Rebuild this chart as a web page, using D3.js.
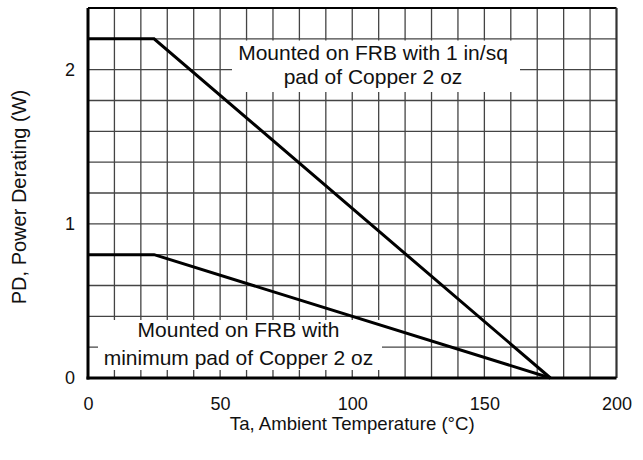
<!DOCTYPE html>
<html>
<head>
<meta charset="utf-8">
<script src="https://cdn.jsdelivr.net/npm/d3@7/dist/d3.min.js"></script>
<style>
  html, body { margin: 0; padding: 0; background: #fff; }
  svg { display: block; font-family: "Liberation Sans", Arial, Helvetica, sans-serif; }
</style>
</head>
<body>
<svg id="chart" width="643" height="460"></svg>
<script>
// ---- data ----
const temps = [0, 25, 175];                 // Ta, °C
const pdCopper1in = [2.2, 2.2, 0];          // Mounted on FRB with 1 in/sq pad
const pdMinPad = [0.8, 0.8, 0];             // Mounted on FRB with minimum pad
const xTickValues = [0, 50, 100, 150, 200];
const yTickValues = [0, 1, 2];
const xTitle = "Ta, Ambient Temperature (°C)";
const yTitle = "PD, Power Derating (W)";
const noteUpper = ["Mounted on FRB with 1 in/sq", "pad of Copper 2 oz"];
const noteLower = ["Mounted on FRB with", "minimum pad of Copper 2 oz"];

// ---- layout ----
const svg = d3.select("#chart");
const pL = 88, pR = 616.5, pT = 8, pB = 378;
const x = d3.scaleLinear().domain([0, 200]).range([pL, pR]);
const y = d3.scaleLinear().domain([0, 2.4]).range([pB, pT]);

// grid
const gx = d3.range(10, 200, 10);
const gy = d3.range(0.2, 2.4001, 0.2).filter(v => v < 2.39);
const grid = svg.append("g").attr("stroke", "#444").attr("stroke-width", 1.3);
grid.selectAll("line.v").data(gx).join("line").attr("class", "v")
  .attr("x1", d => x(d)).attr("x2", d => x(d))
  .attr("y1", pT).attr("y2", pB);
grid.selectAll("line.h").data(gy).join("line").attr("class", "h")
  .attr("x1", pL).attr("x2", pR)
  .attr("y1", d => y(d)).attr("y2", d => y(d));

// annotation boxes (white, hide grid)
function note(lines, bx0, bx1, by0, by1, cx, baselines) {
  svg.append("rect")
    .attr("x", bx0).attr("y", by0)
    .attr("width", bx1 - bx0).attr("height", by1 - by0)
    .attr("fill", "#fff");
  const t = svg.append("text").attr("text-anchor", "middle")
    .attr("font-size", 21).attr("fill", "#111");
  lines.forEach((s, i) => {
    t.append("tspan").attr("x", cx).attr("y", baselines[i]).text(s);
  });
}
note(noteUpper, 232, 520, 40.5, 92, 373, [60, 84]);
note(noteLower, 98, 382, 320, 370, 238.5, [337, 365]);

// frame
svg.append("line").attr("x1", pL).attr("x2", pR).attr("y1", pT).attr("y2", pT)
  .attr("stroke", "#000").attr("stroke-width", 2.2);
svg.append("line").attr("x1", pR).attr("x2", pR).attr("y1", pT).attr("y2", pB)
  .attr("stroke", "#333").attr("stroke-width", 2.2);

// curves
const line = d3.line().x(d => x(d[0])).y(d => y(d[1]));
[pdCopper1in, pdMinPad].forEach(series => {
  svg.append("path")
    .datum(temps.map((t, i) => [t, series[i]]))
    .attr("d", line)
    .attr("fill", "none").attr("stroke", "#000")
    .attr("stroke-width", 3).attr("stroke-linejoin", "miter");
});

// axes
const xAxis = svg.append("g").attr("transform", `translate(0,${pB})`)
  .call(d3.axisBottom(x).tickValues(xTickValues).tickSize(0).tickPadding(19).tickFormat(d3.format("d")));
const yAxis = svg.append("g").attr("transform", `translate(${pL},0)`)
  .call(d3.axisLeft(y).tickValues(yTickValues).tickSize(0).tickPadding(13).tickFormat(d3.format("d")));
[xAxis, yAxis].forEach(a => {
  a.select(".domain").attr("stroke", "#000").attr("stroke-width", 3);
  a.selectAll("text").attr("font-size", 18).attr("fill", "#111")
    .attr("font-family", "'Liberation Sans', Arial, Helvetica, sans-serif");
});
yAxis.select(".domain").attr("d", `M0,${pT}V${pB + 1.5}`);
xAxis.select(".domain").attr("d", `M${pL - 1.5},0H${pR}`);

// titles
svg.append("text").attr("x", (pL + pR) / 2).attr("y", 430)
  .attr("text-anchor", "middle").attr("font-size", 18.6).attr("fill", "#111").text(xTitle);
svg.append("text").attr("transform", "translate(26,197) rotate(-90)")
  .attr("text-anchor", "middle").attr("font-size", 20).attr("fill", "#111").text(yTitle);
</script>
</body>
</html>
